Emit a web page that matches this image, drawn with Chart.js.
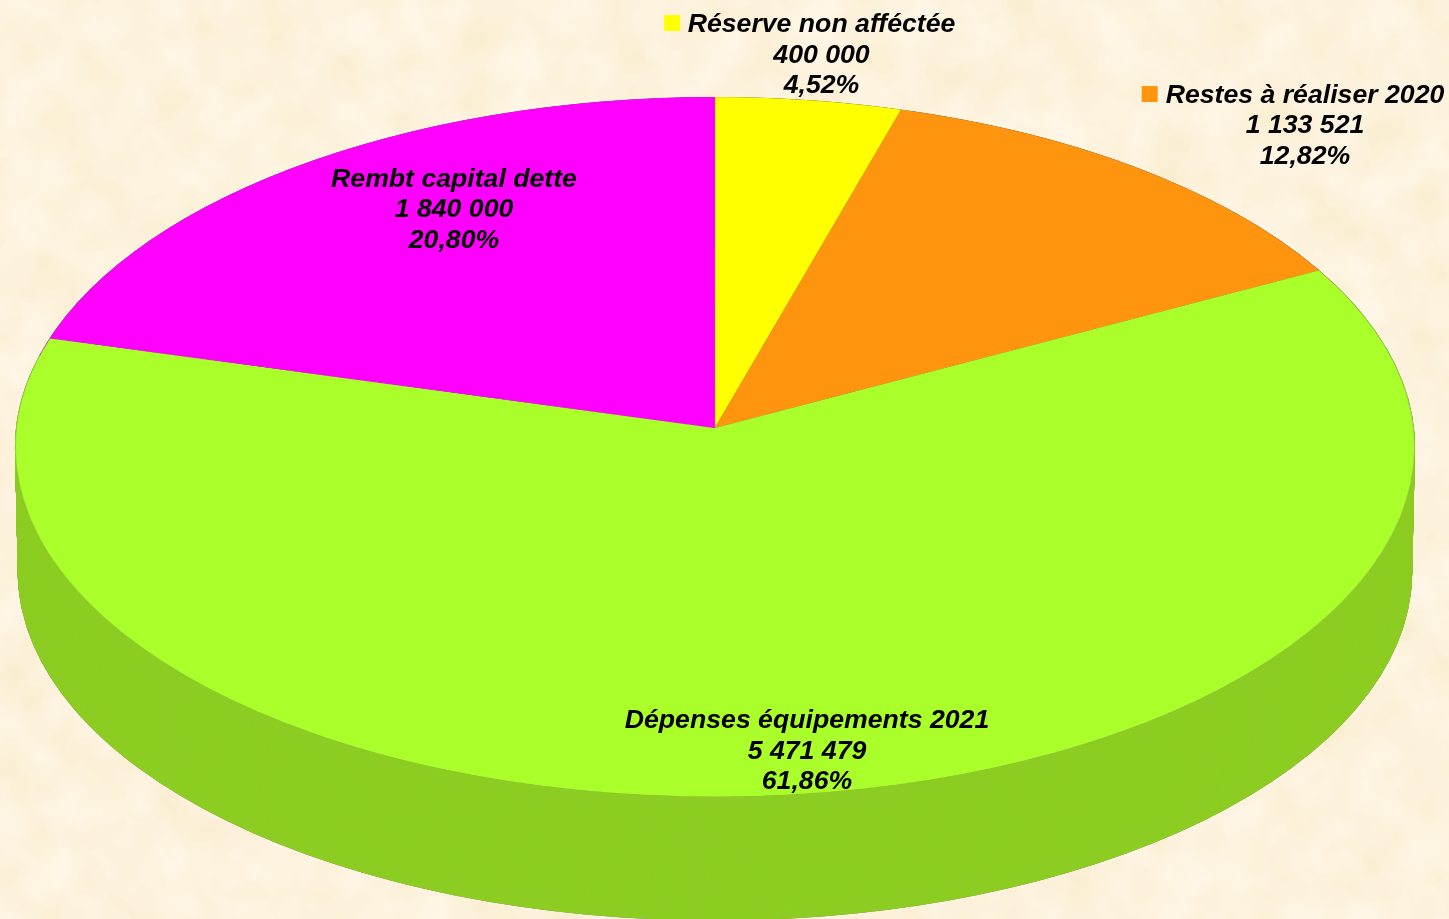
<!DOCTYPE html>
<html lang="fr">
<head>
<meta charset="utf-8">
<title>Répartition</title>
<script src="https://cdn.jsdelivr.net/npm/chart.js@4/dist/chart.umd.min.js"></script>
<style>
  html, body { margin: 0; padding: 0; background: #fcf2dc; }
  #page { position: relative; width: 1449px; height: 919px; overflow: hidden; }
  #paper { position: absolute; left: 0; top: 0; }
  canvas { position: absolute; display: block; transform-origin: 0 0; }
  #wallChart {
    left: 5px; top: 92px;
    transform: scaleY(0.5);
    filter: drop-shadow(0 0 0.7px rgba(80, 80, 80, 0.8));
  }
  #topChart { left: 0; top: 0; }
  .label {
    position: absolute;
    transform: translateX(-50%);
    font: italic bold 26.67px/30.5px "Liberation Sans", Arial, sans-serif;
    color: #000;
    text-align: center;
    white-space: nowrap;
  }
  .label div { position: relative; }
  .swatch { position: absolute; left: -24px; top: 7px; width: 16px; height: 16px; }
</style>
</head>
<body>
<div id="page">
  <svg id="paper" width="1449" height="919">
    <filter id="mottle" x="0" y="0" width="100%" height="100%" color-interpolation-filters="sRGB">
      <feTurbulence type="fractalNoise" baseFrequency="0.02" numOctaves="3" seed="7"></feTurbulence>
      <feColorMatrix type="matrix" values="0.03 0 0 0 0.975  0.05 0 0 0 0.925  0.14 0 0 0 0.795  0 0 0 0 1"></feColorMatrix>
    </filter>
    <rect width="1449" height="919" filter="url(#mottle)"></rect>
  </svg>
  <canvas id="wallChart" width="1420" height="1670"></canvas>
  <canvas id="topChart" width="1420" height="1420"></canvas>
</div>
<script>
const categories = ["Réserve non afféctée", "Restes à réaliser 2020", "Dépenses équipements 2021", "Rembt capital dette"];
const values = [400000, 1133521, 5471479, 1840000];
const valueLabels = ["400 000", "1 133 521", "5 471 479", "1 840 000"];
const percentLabels = ["4,52%", "12,82%", "61,86%", "20,80%"];
const sliceColors = ["#ffff00", "#ff950e", "#aaff2b", "#ff00ff"];
const wallColors = ["#cdcd00", "#cd780b", "#8dcd23", "#cd00cd"];

// x centre / top of each label, and whether it carries a legend square
const labelCenters = [821.5, 1305, 807, 454];
const labelTops = [8, 78.5, 704, 162.5];
const labelSwatch = [true, true, false, false];

const SIZE = 1420;
const RADIUS = 700;
const WALL_DEPTH = 250; // canvas px, squeezed to 125 on screen

function pieOptions(paddingBottom) {
  return {
    responsive: false,
    animation: false,
    devicePixelRatio: 1,
    events: [],
    layout: { padding: { left: 10, right: 10, top: 10, bottom: paddingBottom } },
    plugins: { legend: { display: false }, tooltip: { enabled: false } },
  };
}

// side of the cake: same slices repeated downwards, darker
const wallPlugin = {
  id: "wall",
  beforeDatasetsDraw(chart) {
    const ctx = chart.ctx;
    const arc = chart.getDatasetMeta(0).data[0];
    for (let d = WALL_DEPTH; d > 0; d -= 2) {
      const s = 1 - 0.004 * (d / WALL_DEPTH);
      ctx.save();
      ctx.translate(arc.x, arc.y + d);
      ctx.scale(s, s);
      ctx.translate(-arc.x, -arc.y);
      chart.getDatasetMeta(0).controller.draw();
      ctx.restore();
    }
  },
};

new Chart(document.getElementById("wallChart"), {
  type: "pie",
  data: {
    labels: categories,
    datasets: [{ data: values, backgroundColor: wallColors, borderWidth: 0 }],
  },
  options: pieOptions(WALL_DEPTH + 10),
  plugins: [wallPlugin],
});

new Chart(document.getElementById("topChart"), {
  type: "pie",
  data: {
    labels: categories,
    datasets: [{ data: values, backgroundColor: sliceColors, borderColor: "rgba(120, 120, 120, 0.25)", borderWidth: 1 }],
  },
  options: pieOptions(10),
});

// perspective of the top face: apex at (715, 428), rim from y=97 to y=797
(function () {
  const cx = 715, cy = 428, k = -0.0543, sx = 699, sy = 349;
  const c = SIZE / 2;
  const m14 = 0, m24 = k / RADIUS, m44 = 1 - k * c / RADIUS;
  const m11 = sx / RADIUS + cx * m14, m21 = cx * m24, m41 = cx * m44 - sx * c / RADIUS;
  const m12 = cy * m14, m22 = sy / RADIUS + cy * m24, m42 = cy * m44 - sy * c / RADIUS;
  document.getElementById("topChart").style.transform =
    "matrix3d(" + [m11, m12, 0, m14, m21, m22, 0, m24, 0, 0, 1, 0, m41, m42, 0, m44].join(",") + ")";
})();

const page = document.getElementById("page");
categories.forEach(function (name, i) {
  const box = document.createElement("div");
  box.className = "label";
  box.style.left = labelCenters[i] + "px";
  box.style.top = labelTops[i] + "px";
  [name, valueLabels[i], percentLabels[i]].forEach(function (text, line) {
    const row = document.createElement("div");
    row.textContent = text;
    if (line === 0 && labelSwatch[i]) {
      const sw = document.createElement("span");
      sw.className = "swatch";
      sw.style.background = sliceColors[i];
      row.appendChild(sw);
    }
    box.appendChild(row);
  });
  page.appendChild(box);
});
</script>
</body>
</html>
